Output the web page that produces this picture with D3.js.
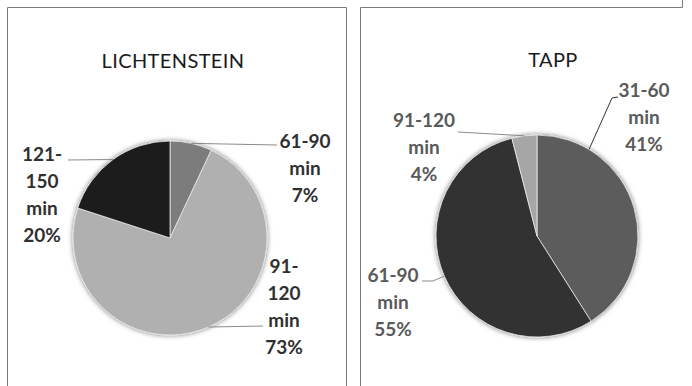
<!DOCTYPE html>
<html>
<head>
<meta charset="utf-8">
<script src="https://cdn.jsdelivr.net/npm/d3@7"></script>
<style>
  body { margin: 0; background: #fff; }
  svg { display: block; }
</style>
</head>
<body>
<div id="vis"></div>
<script>
// SVG dims
var width = 692;
var height = 386;

// Data values
var leftTitle = "LICHTENSTEIN";
var leftCategories = ["61-90 min", "91-120 min", "121-150 min"];
var leftValues = [7, 73, 20];
var leftLabelLines = [["61-90", "min"], ["91-", "120", "min"], ["121-", "150", "min"]];

var rightTitle = "TAPP";
var rightCategories = ["31-60 min", "61-90 min", "91-120 min"];
var rightValues = [41, 55, 4];
var rightLabelLines = [["31-60", "min"], ["61-90", "min"], ["91-120", "min"]];

// Layout for each panel (label / leader offsets relative to pie centre)
var panels = [
  {
    title: leftTitle, cats: leftCategories, vals: leftValues, lines: leftLabelLines,
    cx: 170, cy: 238, r: 97, titleX: 173, titleY: 68,
    colors: ["#7b7b7b", "#b0b0b0", "#1c1c1c"],
    labelColor: "#303030",
    label: [[135, -90], [114, 35], [-128, -77]],
    leaderAt: [0.5, 0.5, 0.5],
    leaderEnd: [[[107, -93]], [[93, 88]], [[-102, -78]]]
  },
  {
    title: rightTitle, cats: rightCategories, vals: rightValues, lines: rightLabelLines,
    cx: 537, cy: 236, r: 101, titleX: 553, titleY: 67,
    colors: ["#5c5c5c", "#333333", "#a6a6a6"],
    labelColor: "#5a5a5a",
    label: [[107, -139], [-144, 46], [-113, -109]],
    leaderAt: [0.21, 0.5, 0.5],
    leaderEnd: [[[75, -138], [81, -139]], [[-104, 45], [-115, 45]], [[-79, -104]]]
  }
];

var svg = d3.select("#vis").append("svg").attr("width", width).attr("height", height);

// soft shadow round the pies
var filter = svg.append("defs").append("filter")
    .attr("id", "shadow").attr("x", "-20%").attr("y", "-20%")
    .attr("width", "140%").attr("height", "140%");
filter.append("feDropShadow")
    .attr("dx", 0).attr("dy", 0).attr("stdDeviation", 2.5)
    .attr("flood-color", "#000").attr("flood-opacity", 0.55);

// panel frames
var frame = "#7a7a7a";
svg.append("path")
    .attr("d", "M7.5,386 V7.5 H346.5 V386")
    .attr("fill", "none").attr("stroke", frame);
svg.append("path")
    .attr("d", "M360.5,386 V7.5 H682.5 V0")
    .attr("fill", "none").attr("stroke", frame);

var pie = d3.pie().sort(null).value(function(d) { return d; });
var lineH = 27;

panels.forEach(function(p) {
  var g = svg.append("g").attr("transform", "translate(" + p.cx + "," + p.cy + ")");
  var arcs = pie(p.vals);
  var arc = d3.arc().innerRadius(0).outerRadius(p.r);

  g.append("g").attr("filter", "url(#shadow)")
    .selectAll("path")
    .data(arcs).enter()
    .append("path")
    .attr("d", arc)
    .attr("fill", function(d, i) { return p.colors[i]; })
    .attr("stroke", "#e8e8e8")
    .attr("stroke-width", 0.8);

  // title
  svg.append("text")
    .attr("x", p.titleX).attr("y", p.titleY)
    .attr("text-anchor", "middle")
    .attr("font-family", "Lato, 'Open Sans', sans-serif")
    .attr("font-size", 20)
    .attr("letter-spacing", 0.4)
    .attr("fill", "#1a1a1a")
    .text(p.title);

  // leader lines
  arcs.forEach(function(d, i) {
    var a = d.startAngle + (d.endAngle - d.startAngle) * p.leaderAt[i];
    var pts = [[Math.sin(a) * p.r, -Math.cos(a) * p.r]].concat(p.leaderEnd[i]);
    g.append("path")
      .attr("d", d3.line()(pts))
      .attr("fill", "none")
      .attr("stroke", i === 0 && p.title === rightTitle ? "#333" : "#8a8a8a")
      .attr("stroke-width", 1);
  });

  // labels
  arcs.forEach(function(d, i) {
    var rows = p.lines[i].concat([p.vals[i] + "%"]);
    var t = g.append("text")
      .attr("text-anchor", "middle")
      .attr("font-family", "Lato, 'Open Sans', sans-serif")
      .attr("font-weight", "bold")
      .attr("font-size", 19)
      .attr("fill", p.labelColor);
    rows.forEach(function(s, k) {
      t.append("tspan")
        .attr("x", p.label[i][0])
        .attr("y", p.label[i][1] + k * lineH)
        .text(s);
    });
  });
});
</script>
</body>
</html>
